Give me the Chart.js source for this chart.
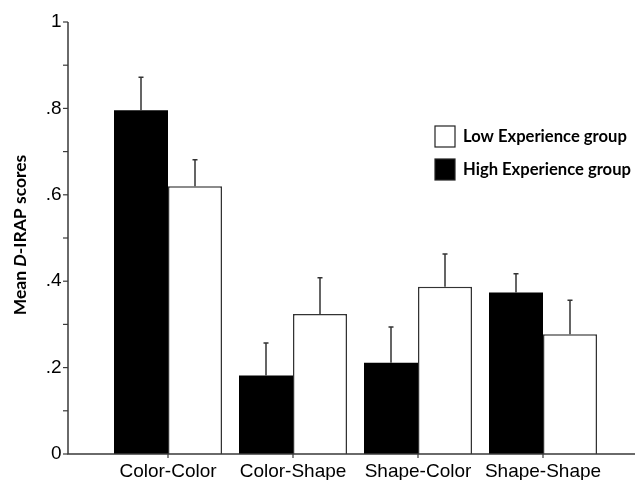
<!DOCTYPE html>
<html>
<head>
<meta charset="utf-8">
<script src="https://cdn.jsdelivr.net/npm/chart.js@4"></script>
<style>
  body { margin: 0; background: #fff; }
  #wrap { width: 635px; height: 480px; }
</style>
</head>
<body>
<div id="wrap"><canvas id="bar-chart"></canvas></div>
<script>
"use strict";

var categories = ["Color-Color", "Color-Shape", "Shape-Color", "Shape-Shape"];

var highMeans = [0.796, 0.182, 0.211, 0.374];
var highErrors = [0.076, 0.075, 0.083, 0.043];

var lowMeans = [0.62, 0.324, 0.387, 0.277];
var lowErrors = [0.061, 0.084, 0.076, 0.079];

var yTickLabels = ["0", ".2", ".4", ".6", ".8", "1"];

var axisColor = "#3a3a3a";
var labelFont = "'Liberation Sans', Arial, sans-serif";
var boldFont = "Lato, 'Liberation Sans', sans-serif";

// axes, error bars, y title and legend drawn by hand
var decorations = {
    id: "decorations",
    beforeDraw: function (chart) {
        var c = chart.ctx;
        c.save();
        c.fillStyle = "#fff";
        c.fillRect(0, 0, chart.width, chart.height);
        c.restore();
    },
    afterDatasetsDraw: function (chart) {
        var c = chart.ctx;
        var y = chart.scales.y;
        var axisX = 68;
        var zero = y.getPixelForValue(0);
        var top = y.getPixelForValue(1);

        c.save();
        // error bars (upper only)
        c.strokeStyle = "#333";
        c.lineWidth = 1.5;
        chart.data.datasets.forEach(function (ds, i) {
            var meta = chart.getDatasetMeta(i);
            meta.data.forEach(function (bar, j) {
                var yTop = y.getPixelForValue(ds.data[j] + ds.errors[j]);
                c.beginPath();
                c.moveTo(bar.x, bar.y);
                c.lineTo(bar.x, yTop);
                c.moveTo(bar.x - 2.5, yTop);
                c.lineTo(bar.x + 2.5, yTop);
                c.stroke();
            });
        });

        // axis lines
        c.strokeStyle = axisColor;
        c.lineWidth = 1.5;
        c.beginPath();
        c.moveTo(axisX, top);
        c.lineTo(axisX, zero);
        c.lineTo(chart.width, zero);
        c.stroke();

        // y ticks every .1
        c.lineWidth = 1.2;
        for (var k = 0; k <= 10; k++) {
            var py = y.getPixelForValue(k / 10);
            c.beginPath();
            c.moveTo(axisX - 5, py);
            c.lineTo(axisX, py);
            c.stroke();
        }

        // x ticks at category centres
        var x = chart.scales.x;
        categories.forEach(function (cat, j) {
            var px = x.getPixelForValue(j);
            c.beginPath();
            c.moveTo(px, zero);
            c.lineTo(px, zero + 4);
            c.stroke();
        });

        // y title with italic D
        c.translate(20, 235);
        c.rotate(-Math.PI / 2);
        c.fillStyle = "#000";
        c.textBaseline = "middle";
        var parts = [
            { t: "Mean ", f: "bold 17.5px " + boldFont },
            { t: "D", f: "italic bold 17.5px " + boldFont },
            { t: "-IRAP scores", f: "bold 17.5px " + boldFont },
        ];
        var total = 0;
        parts.forEach(function (p) {
            c.font = p.f;
            total += c.measureText(p.t).width;
        });
        var tx = -total / 2;
        parts.forEach(function (p) {
            c.font = p.f;
            c.fillText(p.t, tx, 0);
            tx += c.measureText(p.t).width;
        });
        c.restore();

        // legend, Low group first
        c.save();
        c.font = "bold 16.6px " + boldFont;
        c.textBaseline = "middle";
        var rows = chart.data.datasets.slice().reverse();
        rows.forEach(function (ds, r) {
            var bx = 435;
            var by = 126 + r * 33;
            c.fillStyle = ds.backgroundColor;
            c.fillRect(bx, by, 20, 21);
            c.strokeStyle = "#222";
            c.lineWidth = 1.2;
            c.strokeRect(bx, by, 20, 21);
            c.fillStyle = "#000";
            c.fillText(ds.label, 463, by + 11);
        });
        c.restore();
    },
};

var ctx = document.getElementById("bar-chart").getContext("2d");

new Chart(ctx, {
    type: "bar",
    data: {
        labels: categories,
        datasets: [
            {
                label: "High Experience group",
                data: highMeans,
                errors: highErrors,
                backgroundColor: "#000",
                borderColor: "#000",
                borderWidth: 0,
            },
            {
                label: "Low Experience group",
                data: lowMeans,
                errors: lowErrors,
                backgroundColor: "#fff",
                borderColor: "#333",
                borderWidth: 1.5,
            },
        ],
    },
    options: {
        responsive: true,
        maintainAspectRatio: false,
        animation: false,
        layout: {
            padding: { left: 0, right: 29.5, top: 22, bottom: 0 },
        },
        datasets: {
            bar: {
                categoryPercentage: 0.864,
                barPercentage: 1,
            },
        },
        scales: {
            x: {
                grid: { display: false, drawTicks: false },
                border: { display: false },
                ticks: {
                    color: "#000",
                    padding: 6,
                    font: { family: labelFont, size: 19 },
                },
                afterFit: function (scale) {
                    scale.height = 26;
                },
            },
            y: {
                min: 0,
                max: 1,
                grid: { display: false, drawTicks: false },
                border: { display: false },
                ticks: {
                    stepSize: 0.1,
                    color: "#000",
                    padding: 44,
                    font: { family: labelFont, size: 19 },
                    callback: function (value) {
                        var k = Math.round(value * 10);
                        return k % 2 === 0 ? yTickLabels[k / 2] : "";
                    },
                },
                afterFit: function (scale) {
                    scale.width = 105.5;
                    scale.paddingTop = 11;
                    scale.paddingBottom = 11;
                },
            },
        },
        plugins: {
            legend: { display: false },
            tooltip: { enabled: false },
        },
    },
    plugins: [decorations],
});
</script>
</body>
</html>
